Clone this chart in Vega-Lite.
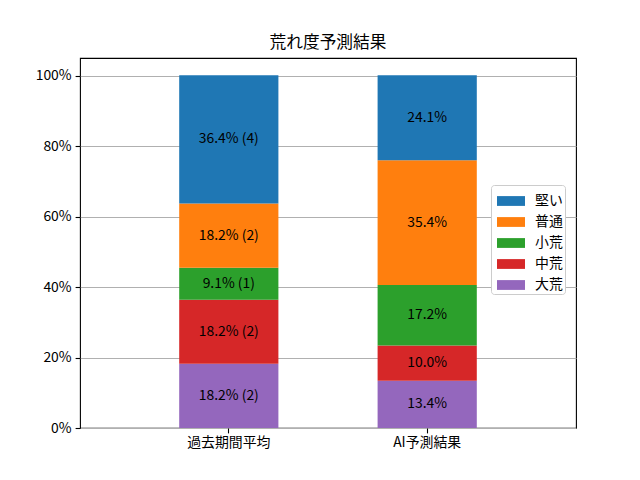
{
  "$schema": "https://vega.github.io/schema/vega-lite/v6.json",
  "width": 496,
  "height": 370,
  "autosize": {"type": "none"},
  "padding": {"left": 80, "top": 58, "right": 64, "bottom": 52},
  "background": "white",
  "title": {"text": "荒れ度予測結果", "fontSize": 16.7, "fontWeight": "normal", "font": "Noto Sans CJK JP", "color": "black", "offset": 6, "anchor": "middle"},
  "config": {
    "view": {"stroke": "black", "strokeWidth": 1.1},
    "font": "Noto Sans CJK JP",
    "axis": {"labelFont": "Noto Sans CJK JP", "labelFontSize": 13.9, "labelColor": "black", "tickColor": "black", "tickSize": 4.9, "tickWidth": 1.1, "domain": false, "titleFontSize": 0}
  },
  "data": {"values": [
    {"cat": "過去期間平均", "type": "大荒", "ord": 1, "pct": 18.2, "label": "18.2% (2)"},
    {"cat": "過去期間平均", "type": "中荒", "ord": 2, "pct": 18.2, "label": "18.2% (2)"},
    {"cat": "過去期間平均", "type": "小荒", "ord": 3, "pct": 9.1, "label": "9.1% (1)"},
    {"cat": "過去期間平均", "type": "普通", "ord": 4, "pct": 18.2, "label": "18.2% (2)"},
    {"cat": "過去期間平均", "type": "堅い", "ord": 5, "pct": 36.4, "label": "36.4% (4)"},
    {"cat": "AI予測結果", "type": "大荒", "ord": 1, "pct": 13.4, "label": "13.4%"},
    {"cat": "AI予測結果", "type": "中荒", "ord": 2, "pct": 10.0, "label": "10.0%"},
    {"cat": "AI予測結果", "type": "小荒", "ord": 3, "pct": 17.2, "label": "17.2%"},
    {"cat": "AI予測結果", "type": "普通", "ord": 4, "pct": 35.4, "label": "35.4%"},
    {"cat": "AI予測結果", "type": "堅い", "ord": 5, "pct": 24.1, "label": "24.1%"}
  ]},
  "layer": [
    {
      "mark": {"type": "bar"},
      "encoding": {
        "x": {"field": "cat", "type": "nominal", "sort": ["過去期間平均", "AI予測結果"], "scale": {"paddingInner": 0.5, "paddingOuter": 0.5}, "axis": {"title": null, "labelAngle": 0, "labelPadding": 3, "grid": false}},
        "y": {"field": "pct", "type": "quantitative", "stack": "zero", "scale": {"domain": [0, 105], "nice": false}, "axis": {"title": null, "values": [0, 20, 40, 60, 80, 100], "labelExpr": "datum.value + '%'", "grid": true, "gridColor": "#b0b0b0", "gridWidth": 1.1, "labelPadding": 4}},
        "order": {"field": "ord", "type": "quantitative"},
        "color": {"field": "type", "type": "nominal", "scale": {"domain": ["堅い", "普通", "小荒", "中荒", "大荒"], "range": ["#1f77b4", "#ff7f0e", "#2ca02c", "#d62728", "#9467bd"]},
          "legend": {"title": null, "orient": "none", "legendX": 411, "legendY": 127, "symbolType": "M-1,-0.35L1,-0.35L1,0.35L-1,0.35Z", "symbolSize": 784, "symbolStrokeWidth": 0, "symbolOpacity": 1, "symbolOffset": 4, "labelFontSize": 13.9, "labelColor": "black", "labelFont": "Noto Sans CJK JP", "labelOffset": 10, "rowPadding": 0, "padding": 2, "strokeColor": "#cccccc", "fillColor": "white", "cornerRadius": 3}}
      }
    },
    {
      "transform": [
        {"stack": "pct", "groupby": ["cat"], "sort": [{"field": "ord", "order": "ascending"}], "as": ["y0", "y1"]},
        {"fold": ["y0", "y1"], "as": ["k", "v"]},
        {"aggregate": [{"op": "mean", "field": "v", "as": "mid"}], "groupby": ["cat", "label", "type"]}
      ],
      "mark": {"type": "text", "fontSize": 13.9, "color": "black", "font": "Noto Sans CJK JP", "baseline": "middle"},
      "encoding": {
        "x": {"field": "cat", "type": "nominal", "sort": ["過去期間平均", "AI予測結果"]},
        "y": {"field": "mid", "type": "quantitative"},
        "text": {"field": "label"}
      }
    }
  ]
}
